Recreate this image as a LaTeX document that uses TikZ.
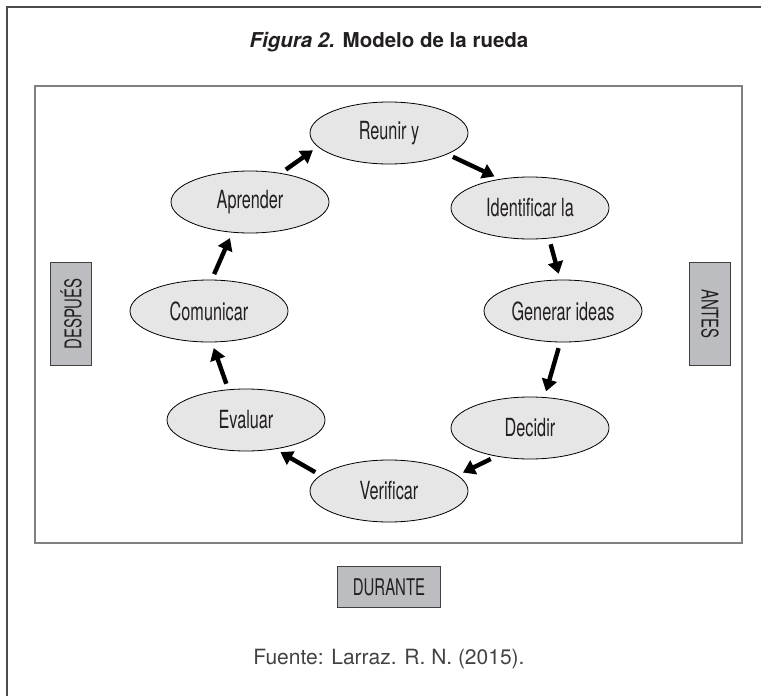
\documentclass[tikz,border=0pt]{standalone}
\usepackage{fontspec}
\setmainfont{TeX Gyre Heros}
\newfontfamily\condfont{TeX Gyre Heros}[FakeStretch=0.65]
\usepackage{tikz}
\usetikzlibrary{arrows.meta, shapes.geometric}
\definecolor{pasogris}{HTML}{E6E6E7}
\definecolor{cajagris}{HTML}{BCBDC0}
\definecolor{tinta}{HTML}{231F20}
\tikzset{etapa/.style={ellipse, draw=black, line width=0.8pt, fill=pasogris, minimum width=158pt, minimum height=62pt, inner sep=0pt, text=tinta, font=\condfont\fontsize{25}{25}\selectfont}}
\tikzset{fase/.style={draw=black!75, line width=1pt, fill=cajagris, minimum width=103pt, minimum height=41pt, inner sep=0pt, text=tinta, font=\condfont\fontsize{23}{23}\selectfont}}
\tikzset{flecha/.style={-{Triangle[width=15pt, length=12pt]}, line width=4.4pt, shorten <=#1, shorten >=#1}}
\tikzset{flecha/.default=6pt}

\begin{document}
\begin{tikzpicture}[x=1pt, y=-1pt]
            \useasboundingbox (0,0) rectangle (761,696);
            \draw[black!70, line width=1.3pt] (7,700) |- (765,7);
            \draw[black!50, line width=1.5pt] (35,86) rectangle (742,543);
            \node[text=tinta, font=\bfseries\fontsize{20.5}{20.5}\selectfont] (titulo) at (389,42) {\textit{Figura 2.} Modelo de la rueda};
            \foreach \nombre/\x/\y/\texto in {reunir/389/133/Reunir y, identificar/530/208/Identificar la, generar/563/311/Generar ideas, decidir/530/428/Decidir, verificar/389/491/Verificar, evaluar/246/420/Evaluar, comunicar/209/311/Comunicar, aprender/250/202/Aprender} {
                \node[etapa] (\nombre) at (\x,\y) {\texto};
            }
            \foreach \a/\b in {aprender.43/reunir.191, reunir.340/identificar.136, identificar.302/generar.95, generar.265/decidir.65, decidir.220/verificar.13, verificar.167/evaluar.315, evaluar.120/comunicar.275, comunicar.85/aprender.240} {
                \draw[flecha] (\a) -- (\b);
            }
            \node[fase, rotate=90] (despues) at (71,314) {DESPUÉS};
            \node[fase, rotate=-90] (antes) at (710,314) {ANTES};
            \node[fase] (durante) at (389,587) {DURANTE};
            \node[text=tinta!85, font=\fontsize{21}{21}\selectfont] (fuente) at (389,659) {Fuente: Larraz. R. N. (2015).};
        \end{tikzpicture}
\end{document}
